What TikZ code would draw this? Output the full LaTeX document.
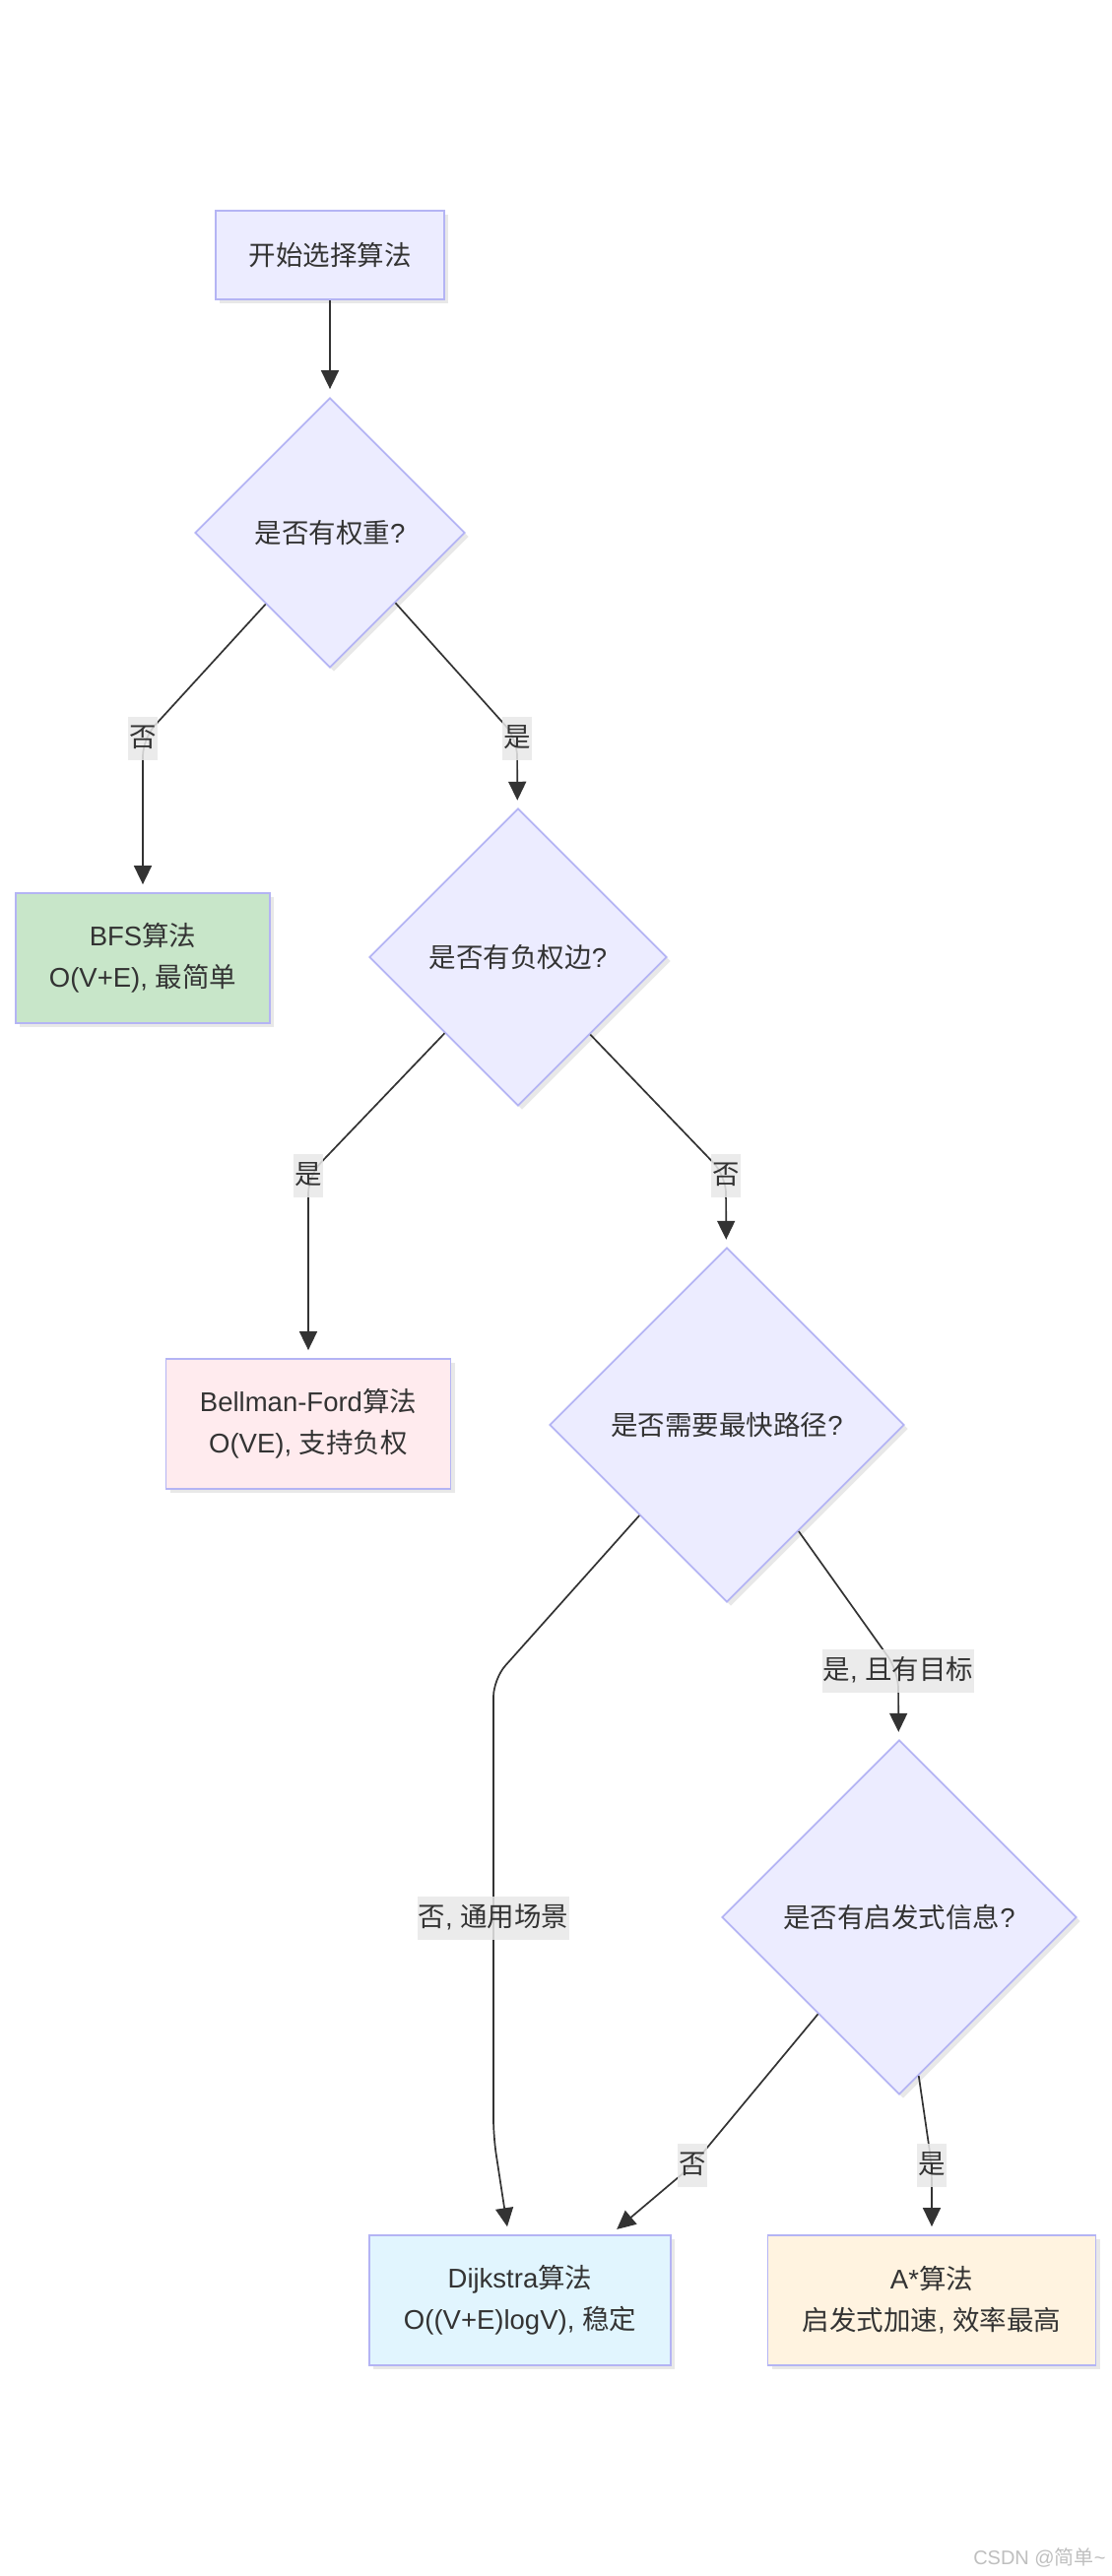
\documentclass[tikz,border=0pt]{standalone}
\usepackage{fontspec}
\setmainfont{Liberation Sans}
\newfontfamily\cjk{Noto Sans CJK SC}
\usetikzlibrary{shapes.geometric, arrows.meta, shadows}

\definecolor{nodefill}{HTML}{ECECFF}
\definecolor{nodeline}{HTML}{B4B4F4}
\definecolor{bfsfill}{HTML}{C8E6C9}
\definecolor{bellfill}{HTML}{FFEBEE}
\definecolor{dijfill}{HTML}{E1F5FE}
\definecolor{astarfill}{HTML}{FFF3E0}
\definecolor{edgeline}{HTML}{333333}
\definecolor{labelfill}{HTML}{E8E8E8}

\begin{document}
\begin{tikzpicture}[
        x=1pt, y=-1pt,
        every node/.style={font=\fontsize{27.5}{42}\selectfont, text=edgeline},
        nodeshadow/.style={drop shadow={shadow xshift=4pt, shadow yshift=-4pt, opacity=0.18}},
        box/.style={draw=nodeline, line width=1.8pt, fill=nodefill, rectangle, minimum height=132pt, align=center, nodeshadow},
        choice/.style={draw=nodeline, line width=1.8pt, fill=nodefill, diamond, aspect=1, inner sep=0pt, align=center, nodeshadow},
        elabel/.style={sharp corners, fill=labelfill, fill opacity=0.85, text opacity=1, inner xsep=1pt, inner ysep=6pt, text height=24pt, text depth=8pt},
        flow/.style={draw=edgeline, line width=1.7pt, -{Triangle[length=19pt, width=18pt]}, shorten >=8pt, rounded corners=18pt}
    ]

    \fill[white] (0,0) rectangle (1128,2616);
    \useasboundingbox (0,0) rectangle (1128,2616);

    \node[box, minimum width=232pt, minimum height=90pt] (start) at (335,259) {{\cjk 开始选择算法}};
    \node[choice, minimum size=274pt] (weight) at (335,541) {{\cjk 是否有权重}?};
    \node[box, fill=bfsfill, minimum width=258pt] (bfs) at (145,973) {BFS{\cjk 算法}\\O(V+E), {\cjk 最简单}};
    \node[choice, minimum size=302pt] (negative) at (526,972) {{\cjk 是否有负权边}?};
    \node[box, fill=bellfill, minimum width=289pt] (bellman) at (313,1446) {Bellman-Ford{\cjk 算法}\\O(VE), {\cjk 支持负权}};
    \node[choice, minimum size=360pt] (fastest) at (738,1447) {{\cjk 是否需要最快路径}?};
    \node[choice, minimum size=360pt] (heuristic) at (913,1947) {{\cjk 是否有启发式信息}?};
    \node[box, fill=dijfill, minimum width=306pt] (dijkstra) at (528,2336) {Dijkstra{\cjk 算法}\\O((V+E)logV), {\cjk 稳定}};
    \node[box, fill=astarfill, minimum width=333pt] (astar) at (946,2336) {A*{\cjk 算法}\\{\cjk 启发式加速}, {\cjk 效率最高}};

    % label spots on the edges
    \coordinate (spot-w-no) at (145,750);
    \coordinate (spot-w-yes) at (525,750);
    \coordinate (spot-n-yes) at (313,1194);
    \coordinate (spot-n-no) at (737,1194);
    \coordinate (spot-f-yes) at (912,1697);
    \coordinate (spot-f-no) at (501,1948);
    \coordinate (spot-h-no) at (703,2199);
    \coordinate (spot-h-yes) at (946,2199);

    \draw[flow] (start) -- (weight);

    \draw[flow] (weight.228) -- (spot-w-no) node[elabel] (w-no) {{\cjk 否}} -- (bfs);
    \draw[flow] (weight.313) -- (spot-w-yes) node[elabel] (w-yes) {{\cjk 是}} -- (negative);

    \draw[flow] (negative.226) -- (spot-n-yes) node[elabel] (n-yes) {{\cjk 是}} -- (bellman);
    \draw[flow] (negative.313) -- (spot-n-no) node[elabel] (n-no) {{\cjk 否}} -- (fastest);

    \draw[flow] (fastest.304) -- (spot-f-yes) node[elabel] (f-yes) {{\cjk 是}, {\cjk 且有目标}} -- (heuristic);
    \draw[flow] (fastest.226) -- (501,1705) -- (spot-f-no) node[elabel] (f-no) {{\cjk 否}, {\cjk 通用场景}} -- (501,2170) -- (dijkstra.100);

    \draw[flow] (heuristic.230) -- (spot-h-no) node[elabel] (h-no) {{\cjk 否}} -- (dijkstra.36);
    \draw[flow] (heuristic.277) -- (spot-h-yes) node[elabel] (h-yes) {{\cjk 是}} -- (astar);

    \node[anchor=east, font=\fontsize{20}{24}\selectfont, text=black!25] (mark) at (1126,2597) {CSDN @{\cjk 简单}\textasciitilde};

\end{tikzpicture}
\end{document}
